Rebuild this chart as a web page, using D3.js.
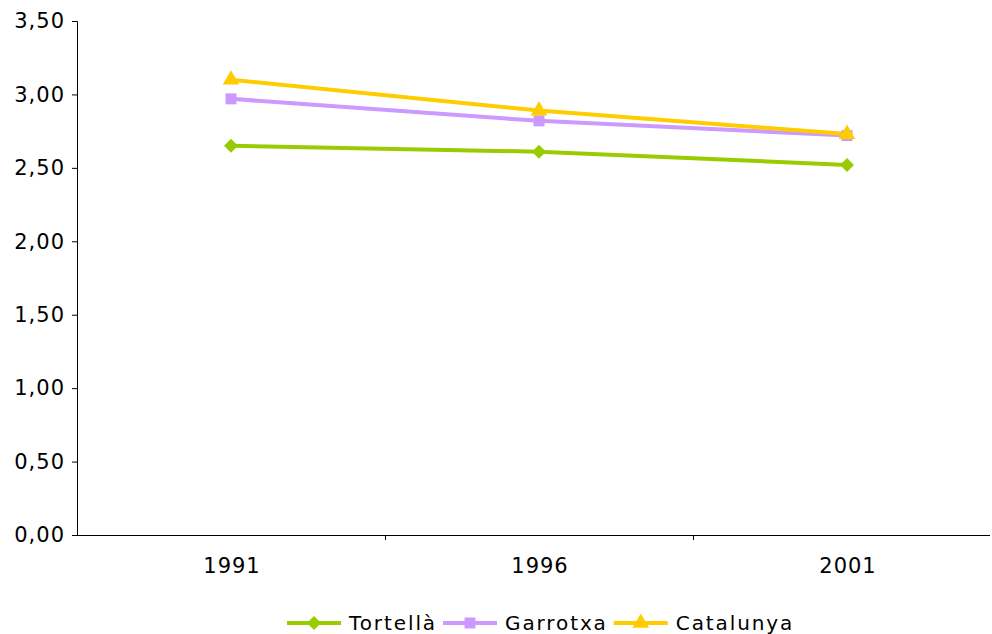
<!DOCTYPE html>
<html><head><meta charset="utf-8">
<script src="https://cdn.jsdelivr.net/npm/d3@7"></script>
<style>body{margin:0;background:#fff}svg{display:block}text{font-family:"DejaVu Sans",Verdana,sans-serif;fill:#000}</style>
</head><body><svg id="c" width="992" height="634"></svg>
<script>
const years = ["1991","1996","2001"];
const tortella = [2.65, 2.61, 2.52];
const garrotxa = [2.97, 2.82, 2.72];
const catalunya = [3.10, 2.89, 2.73];
const yTicks = [0,0.5,1,1.5,2,2.5,3,3.5];
const seriesNames = ["Tortellà","Garrotxa","Catalunya"];
const seriesColors = ["#99cc00","#cc99ff","#ffcc00"];
const series = [tortella, garrotxa, catalunya];

const svg = d3.select("#c");
const L=77, R=1001, AXR=990, T=21, B=535;
const x = d3.scaleBand().domain(years).range([L,R]);
const y = d3.scaleLinear().domain([0,3.5]).range([B,T]);
const fmt = d => d3.format(".2f")(d).replace(".",",");
const cxOf = yy => x(yy)+x.bandwidth()/2;

function marker(k){
  if(k===0){ const r=7; return `M0,${-r}L${r},0L0,${r}L${-r},0Z`; }
  if(k===1){ const r=5.5; return `M${-r},${-r}H${r}V${r}H${-r}Z`; }
  return d3.symbol().type(d3.symbolTriangle).size(120)();
}

// y axis
const ya = svg.append("g").attr("transform",`translate(${L},0)`)
  .call(d3.axisLeft(y).tickValues(yTicks).tickFormat(fmt).tickSize(5).tickPadding(7));
ya.select(".domain").attr("stroke","#000");
ya.selectAll("line").attr("stroke","#000");
ya.selectAll("text").style("font-size","21px").style("letter-spacing","1px").attr("fill","#000");

// x axis
const xa = svg.append("g").attr("transform",`translate(0,${B})`);
xa.append("line").attr("x1",L).attr("x2",AXR).attr("y1",0.5).attr("y2",0.5).attr("stroke","#000");
const bounds = years.slice(1).map(yy=>x(yy));
xa.selectAll("line.t").data(bounds).enter().append("line").attr("class","t")
  .attr("x1",d=>Math.round(d)+0.5).attr("x2",d=>Math.round(d)+0.5).attr("y1",0).attr("y2",5).attr("stroke","#000");
xa.selectAll("text").data(years).enter().append("text")
  .attr("x",d=>cxOf(d)+1).attr("y",38).attr("text-anchor","middle")
  .style("font-size","21px").style("letter-spacing","1px").text(d=>d);

const line = d3.line().x((d,i)=>cxOf(years[i])).y(d=>y(d));
series.forEach((s,k)=>{
  svg.append("path").datum(s).attr("d",line).attr("fill","none")
    .attr("stroke",seriesColors[k]).attr("stroke-width",4);
});
series.forEach((s,k)=>{
  svg.selectAll(null).data(s).enter().append("path")
    .attr("transform",(d,i)=>`translate(${cxOf(years[i])},${y(d)})`)
    .attr("d",marker(k))
    .attr("fill",seriesColors[k]);
});

// legend
const lg = svg.append("g");
let cx = 287;
const ly = 623;
seriesNames.forEach((n,k)=>{
  lg.append("line").attr("x1",cx).attr("x2",cx+54).attr("y1",ly).attr("y2",ly)
    .attr("stroke",seriesColors[k]).attr("stroke-width",4);
  lg.append("path").attr("transform",`translate(${cx+27},${ly})`)
    .attr("d",marker(k)).attr("fill",seriesColors[k]);
  const t = lg.append("text").attr("x",cx+62).attr("y",ly+7).style("font-size","20px")
    .style("letter-spacing","1.9px").text(n);
  cx = cx + 62 + t.node().getComputedTextLength() + 6;
});
</script></body></html>
